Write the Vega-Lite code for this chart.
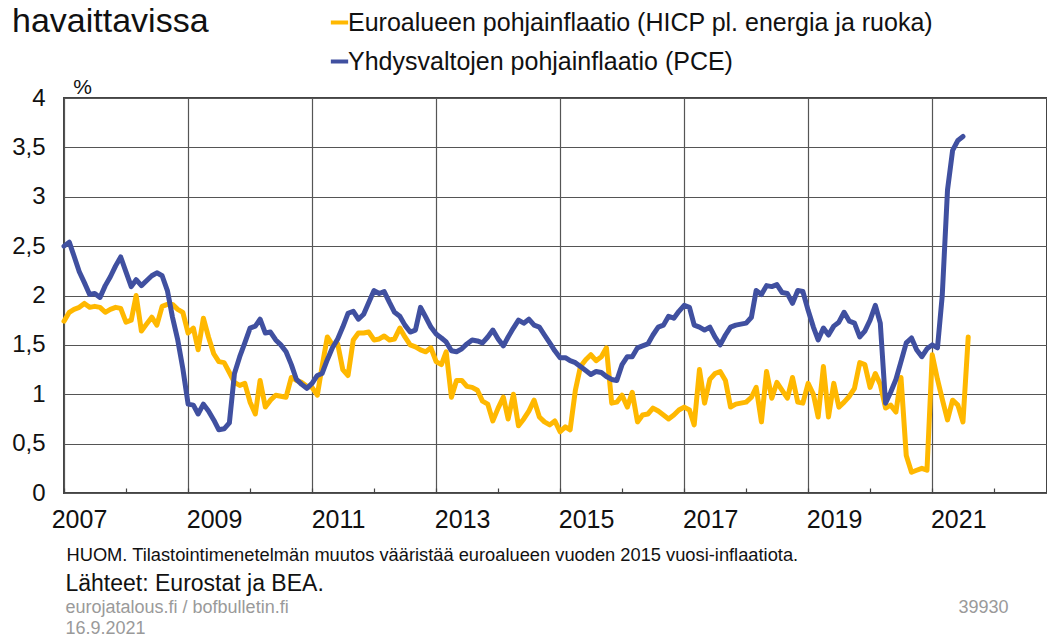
{
"$schema": "https://vega.github.io/schema/vega-lite/v6.json",
"width": 983, "height": 395,
"autosize": {"type": "none"},
"padding": {"left": 64, "top": 98, "right": 0, "bottom": 144},
"background": "white",
"config": {"font": "Liberation Sans", "view": {"stroke": "#444", "strokeWidth": 2}, "axis": {"labelColor": "#111", "titleColor": "#111", "titleFontWeight": "normal"}},
"title": {"text": "havaittavissa", "anchor": "start", "frame": "group", "fontSize": 34, "fontWeight": "normal", "color": "#111", "dx": -52, "dy": 56, "baseline": "alphabetic", "offset": 0},
"data": {"values": [
{"d":"2007-01","eu":1.74,"us":2.50},{"d":"2007-02","eu":1.83,"us":2.54},{"d":"2007-03","eu":1.86,"us":2.40},{"d":"2007-04","eu":1.88,"us":2.24},{"d":"2007-05","eu":1.92,"us":2.13},{"d":"2007-06","eu":1.88,"us":2.01},{"d":"2007-07","eu":1.89,"us":2.02},{"d":"2007-08","eu":1.88,"us":1.98},{"d":"2007-09","eu":1.83,"us":2.10},{"d":"2007-10","eu":1.86,"us":2.19},{"d":"2007-11","eu":1.88,"us":2.30},{"d":"2007-12","eu":1.87,"us":2.39},
{"d":"2008-01","eu":1.73,"us":2.24},{"d":"2008-02","eu":1.75,"us":2.09},{"d":"2008-03","eu":2.00,"us":2.16},{"d":"2008-04","eu":1.64,"us":2.10},{"d":"2008-05","eu":1.71,"us":2.15},{"d":"2008-06","eu":1.78,"us":2.20},{"d":"2008-07","eu":1.70,"us":2.23},{"d":"2008-08","eu":1.89,"us":2.20},{"d":"2008-09","eu":1.91,"us":2.05},{"d":"2008-10","eu":1.91,"us":1.78},{"d":"2008-11","eu":1.86,"us":1.55},{"d":"2008-12","eu":1.83,"us":1.26},
{"d":"2009-01","eu":1.62,"us":0.90},{"d":"2009-02","eu":1.67,"us":0.89},{"d":"2009-03","eu":1.45,"us":0.80},{"d":"2009-04","eu":1.77,"us":0.90},{"d":"2009-05","eu":1.58,"us":0.83},{"d":"2009-06","eu":1.41,"us":0.74},{"d":"2009-07","eu":1.33,"us":0.64},{"d":"2009-08","eu":1.32,"us":0.65},{"d":"2009-09","eu":1.22,"us":0.71},{"d":"2009-10","eu":1.12,"us":1.21},{"d":"2009-11","eu":1.09,"us":1.38},{"d":"2009-12","eu":1.11,"us":1.52},
{"d":"2010-01","eu":0.92,"us":1.67},{"d":"2010-02","eu":0.80,"us":1.69},{"d":"2010-03","eu":1.14,"us":1.76},{"d":"2010-04","eu":0.87,"us":1.62},{"d":"2010-05","eu":0.94,"us":1.63},{"d":"2010-06","eu":0.99,"us":1.55},{"d":"2010-07","eu":0.98,"us":1.50},{"d":"2010-08","eu":0.97,"us":1.43},{"d":"2010-09","eu":1.17,"us":1.30},{"d":"2010-10","eu":1.14,"us":1.15},{"d":"2010-11","eu":1.12,"us":1.10},{"d":"2010-12","eu":1.08,"us":1.06},
{"d":"2011-01","eu":1.07,"us":1.11},{"d":"2011-02","eu":0.99,"us":1.19},{"d":"2011-03","eu":1.28,"us":1.21},{"d":"2011-04","eu":1.58,"us":1.35},{"d":"2011-05","eu":1.50,"us":1.47},{"d":"2011-06","eu":1.51,"us":1.56},{"d":"2011-07","eu":1.25,"us":1.68},{"d":"2011-08","eu":1.19,"us":1.82},{"d":"2011-09","eu":1.55,"us":1.84},{"d":"2011-10","eu":1.62,"us":1.76},{"d":"2011-11","eu":1.62,"us":1.81},{"d":"2011-12","eu":1.63,"us":1.93},
{"d":"2012-01","eu":1.55,"us":2.05},{"d":"2012-02","eu":1.56,"us":2.02},{"d":"2012-03","eu":1.59,"us":2.04},{"d":"2012-04","eu":1.55,"us":1.93},{"d":"2012-05","eu":1.56,"us":1.83},{"d":"2012-06","eu":1.67,"us":1.79},{"d":"2012-07","eu":1.58,"us":1.70},{"d":"2012-08","eu":1.50,"us":1.63},{"d":"2012-09","eu":1.48,"us":1.65},{"d":"2012-10","eu":1.45,"us":1.88},{"d":"2012-11","eu":1.43,"us":1.78},{"d":"2012-12","eu":1.47,"us":1.68},
{"d":"2013-01","eu":1.33,"us":1.61},{"d":"2013-02","eu":1.30,"us":1.57},{"d":"2013-03","eu":1.43,"us":1.53},{"d":"2013-04","eu":0.97,"us":1.44},{"d":"2013-05","eu":1.14,"us":1.43},{"d":"2013-06","eu":1.14,"us":1.46},{"d":"2013-07","eu":1.08,"us":1.51},{"d":"2013-08","eu":1.07,"us":1.55},{"d":"2013-09","eu":1.04,"us":1.54},{"d":"2013-10","eu":0.93,"us":1.52},{"d":"2013-11","eu":0.90,"us":1.58},{"d":"2013-12","eu":0.73,"us":1.65},
{"d":"2014-01","eu":0.86,"us":1.56},{"d":"2014-02","eu":0.97,"us":1.49},{"d":"2014-03","eu":0.75,"us":1.58},{"d":"2014-04","eu":1.00,"us":1.67},{"d":"2014-05","eu":0.68,"us":1.75},{"d":"2014-06","eu":0.75,"us":1.72},{"d":"2014-07","eu":0.83,"us":1.76},{"d":"2014-08","eu":0.94,"us":1.70},{"d":"2014-09","eu":0.77,"us":1.68},{"d":"2014-10","eu":0.72,"us":1.60},{"d":"2014-11","eu":0.69,"us":1.52},{"d":"2014-12","eu":0.73,"us":1.44},
{"d":"2015-01","eu":0.62,"us":1.37},{"d":"2015-02","eu":0.67,"us":1.37},{"d":"2015-03","eu":0.64,"us":1.34},{"d":"2015-04","eu":1.04,"us":1.32},{"d":"2015-05","eu":1.28,"us":1.28},{"d":"2015-06","eu":1.35,"us":1.24},{"d":"2015-07","eu":1.40,"us":1.20},{"d":"2015-08","eu":1.34,"us":1.23},{"d":"2015-09","eu":1.38,"us":1.22},{"d":"2015-10","eu":1.47,"us":1.18},{"d":"2015-11","eu":0.91,"us":1.15},{"d":"2015-12","eu":0.92,"us":1.14},
{"d":"2016-01","eu":0.99,"us":1.30},{"d":"2016-02","eu":0.87,"us":1.38},{"d":"2016-03","eu":1.02,"us":1.38},{"d":"2016-04","eu":0.72,"us":1.47},{"d":"2016-05","eu":0.79,"us":1.49},{"d":"2016-06","eu":0.80,"us":1.51},{"d":"2016-07","eu":0.86,"us":1.60},{"d":"2016-08","eu":0.83,"us":1.68},{"d":"2016-09","eu":0.79,"us":1.70},{"d":"2016-10","eu":0.75,"us":1.79},{"d":"2016-11","eu":0.79,"us":1.77},{"d":"2016-12","eu":0.84,"us":1.84},
{"d":"2017-01","eu":0.87,"us":1.90},{"d":"2017-02","eu":0.84,"us":1.88},{"d":"2017-03","eu":0.69,"us":1.70},{"d":"2017-04","eu":1.25,"us":1.68},{"d":"2017-05","eu":0.91,"us":1.65},{"d":"2017-06","eu":1.15,"us":1.68},{"d":"2017-07","eu":1.21,"us":1.58},{"d":"2017-08","eu":1.23,"us":1.50},{"d":"2017-09","eu":1.14,"us":1.60},{"d":"2017-10","eu":0.87,"us":1.68},{"d":"2017-11","eu":0.90,"us":1.70},{"d":"2017-12","eu":0.91,"us":1.71},
{"d":"2018-01","eu":0.92,"us":1.72},{"d":"2018-02","eu":0.97,"us":1.78},{"d":"2018-03","eu":1.07,"us":2.05},{"d":"2018-04","eu":0.72,"us":2.01},{"d":"2018-05","eu":1.23,"us":2.10},{"d":"2018-06","eu":0.96,"us":2.09},{"d":"2018-07","eu":1.12,"us":2.11},{"d":"2018-08","eu":1.04,"us":2.03},{"d":"2018-09","eu":0.96,"us":2.02},{"d":"2018-10","eu":1.17,"us":1.92},{"d":"2018-11","eu":0.92,"us":2.05},{"d":"2018-12","eu":0.91,"us":2.04},
{"d":"2019-01","eu":1.11,"us":1.85},{"d":"2019-02","eu":1.00,"us":1.68},{"d":"2019-03","eu":0.77,"us":1.55},{"d":"2019-04","eu":1.28,"us":1.67},{"d":"2019-05","eu":0.77,"us":1.60},{"d":"2019-06","eu":1.11,"us":1.69},{"d":"2019-07","eu":0.87,"us":1.73},{"d":"2019-08","eu":0.92,"us":1.83},{"d":"2019-09","eu":0.98,"us":1.74},{"d":"2019-10","eu":1.06,"us":1.72},{"d":"2019-11","eu":1.32,"us":1.58},{"d":"2019-12","eu":1.30,"us":1.64},
{"d":"2020-01","eu":1.07,"us":1.75},{"d":"2020-02","eu":1.21,"us":1.90},{"d":"2020-03","eu":1.10,"us":1.72},{"d":"2020-04","eu":0.86,"us":0.91},{"d":"2020-05","eu":0.89,"us":1.02},{"d":"2020-06","eu":0.82,"us":1.15},{"d":"2020-07","eu":1.17,"us":1.33},{"d":"2020-08","eu":0.38,"us":1.52},{"d":"2020-09","eu":0.21,"us":1.57},{"d":"2020-10","eu":0.23,"us":1.45},{"d":"2020-11","eu":0.25,"us":1.38},{"d":"2020-12","eu":0.23,"us":1.46},
{"d":"2021-01","eu":1.40,"us":1.50},{"d":"2021-02","eu":1.15,"us":1.47},{"d":"2021-03","eu":0.95,"us":2.00},{"d":"2021-04","eu":0.74,"us":3.07},{"d":"2021-05","eu":0.94,"us":3.47},{"d":"2021-06","eu":0.89,"us":3.57},{"d":"2021-07","eu":0.72,"us":3.61},{"d":"2021-08","eu":1.58}
]},
"transform": [{"fold": ["eu", "us"], "as": ["series", "value"]}],
"resolve": {"axis": {"x": "independent"}},
"encoding": {
  "y": {"field": "value", "type": "quantitative", "scale": {"domain": [0, 4], "nice": false, "zero": true},
    "axis": {"values": [0, 0.5, 1, 1.5, 2, 2.5, 3, 3.5, 4], "labelExpr": "replace(toString(datum.value), '.', ',')", "labelFontSize": 24, "labelPadding": 19, "ticks": false, "domain": false, "grid": true, "gridColor": "#555", "gridWidth": 1.2, "title": "%", "titleAngle": 0, "titleFontSize": 21, "titleX": 18, "titleY": -5, "titleAlign": "center", "titleBaseline": "alphabetic"}}
},
"layer": [
  {"mark": {"type": "line", "strokeWidth": 5, "strokeJoin": "round", "strokeCap": "round"},
   "encoding": {
     "x": {"field": "d", "type": "temporal", "scale": {"type": "utc", "domain": [{"year": 2007, "month": 1, "date": 1, "utc": true}, {"year": 2022, "month": 11, "date": 8, "utc": true}]},
       "axis": {"orient": "bottom",
         "values": [{"year": 2007, "month": 1, "date": 1, "utc": true}, {"year": 2008, "month": 1, "date": 1, "utc": true}, {"year": 2009, "month": 1, "date": 1, "utc": true}, {"year": 2010, "month": 1, "date": 1, "utc": true}, {"year": 2011, "month": 1, "date": 1, "utc": true}, {"year": 2012, "month": 1, "date": 1, "utc": true}, {"year": 2013, "month": 1, "date": 1, "utc": true}, {"year": 2014, "month": 1, "date": 1, "utc": true}, {"year": 2015, "month": 1, "date": 1, "utc": true}, {"year": 2016, "month": 1, "date": 1, "utc": true}, {"year": 2017, "month": 1, "date": 1, "utc": true}, {"year": 2018, "month": 1, "date": 1, "utc": true}, {"year": 2019, "month": 1, "date": 1, "utc": true}, {"year": 2020, "month": 1, "date": 1, "utc": true}, {"year": 2021, "month": 1, "date": 1, "utc": true}, {"year": 2022, "month": 1, "date": 1, "utc": true}],
         "labelExpr": "utcyear(datum.value) % 2 == 1 ? '' + utcyear(datum.value) : ''",
         "labelFontSize": 25, "labelOffset": {"condition": {"test": "utcyear(datum.value) == 2007", "value": 15}, "value": 26},
         "labelPadding": 19, "labelOverlap": false, "labelFlush": false, "labelBound": false,
         "domain": false, "ticks": true, "tickSize": -5, "tickColor": "#444", "tickWidth": 1.2,
         "grid": true, "gridColor": "#555", "gridWidth": 1.2, "gridOpacity": {"condition": {"test": "utcyear(datum.value) % 2 == 1", "value": 1}, "value": 0},
         "title": "HUOM. Tilastointimenetelmän muutos vääristää euroalueen vuoden 2015 vuosi-inflaatiota.", "titleFontSize": 18.3, "titleX": 2, "titleY": 67, "titleAlign": "left", "titleBaseline": "alphabetic"}},
     "color": {"field": "series", "type": "nominal", "scale": {"domain": ["eu", "us"], "range": ["#FFB800", "#4050A0"]},
       "legend": {"orient": "none", "legendX": 263, "legendY": -88, "title": null, "padding": 0, "direction": "vertical", "symbolType": "stroke", "symbolStrokeWidth": 4, "symbolSize": 300, "labelFontSize": 25, "labelColor": "#111", "labelOffset": -4, "labelLimit": 800, "rowPadding": 13,
         "labelExpr": "datum.label == 'eu' ? 'Euroalueen pohjainflaatio (HICP pl. energia ja ruoka)' : 'Yhdysvaltojen pohjainflaatio (PCE)'"}}
   }},
  {"mark": {"type": "point", "opacity": 0},
   "encoding": {"x": {"field": "d", "type": "temporal", "scale": {"type": "utc", "domain": [{"year": 2007, "month": 1, "date": 1, "utc": true}, {"year": 2022, "month": 11, "date": 8, "utc": true}]},
     "axis": {"orient": "bottom", "labels": false, "ticks": false, "domain": false, "grid": false, "title": "Lähteet: Eurostat ja BEA.", "titleFontSize": 23, "titleX": 1, "titleY": 97, "titleAlign": "left", "titleBaseline": "alphabetic"}}}},
  {"mark": {"type": "point", "opacity": 0},
   "encoding": {"x": {"field": "d", "type": "temporal", "scale": {"type": "utc", "domain": [{"year": 2007, "month": 1, "date": 1, "utc": true}, {"year": 2022, "month": 11, "date": 8, "utc": true}]},
     "axis": {"orient": "bottom", "labels": false, "ticks": false, "domain": false, "grid": false, "title": ["eurojatalous.fi / bofbulletin.fi", "16.9.2021"], "titleFontSize": 18, "titleColor": "#9a9a9a", "titleLineHeight": 21, "titleX": 1, "titleY": 119, "titleAlign": "left", "titleBaseline": "alphabetic"}}}},
  {"mark": {"type": "point", "opacity": 0},
   "encoding": {"x": {"field": "d", "type": "temporal", "scale": {"type": "utc", "domain": [{"year": 2007, "month": 1, "date": 1, "utc": true}, {"year": 2022, "month": 11, "date": 8, "utc": true}]},
     "axis": {"orient": "bottom", "labels": false, "ticks": false, "domain": false, "grid": false, "title": "39930", "titleFontSize": 18, "titleColor": "#9a9a9a", "titleX": 944, "titleY": 119, "titleAlign": "right", "titleBaseline": "alphabetic"}}}}
]
}
